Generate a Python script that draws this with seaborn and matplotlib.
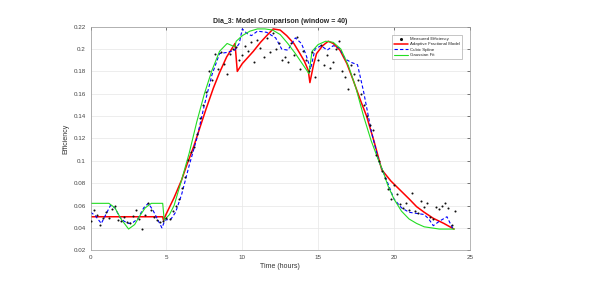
import numpy as np
import pandas as pd
import matplotlib
matplotlib.use("Agg")
import matplotlib.pyplot as plt
import seaborn as sns
from matplotlib.ticker import FuncFormatter, MultipleLocator

# ---- data ----
meas_t = [round(0.2 * i, 1) for i in range(121)]
meas_v = [0.046, 0.056, 0.052, 0.043, 0.049, 0.054, 0.049, 0.057, 0.060, 0.047,
          0.046, 0.050, 0.045, 0.044, 0.051, 0.056, 0.048, 0.039, 0.052, 0.062,
          0.056, 0.050, 0.047, 0.045, 0.046, 0.049, 0.048, 0.055, 0.060, 0.066,
          0.076, 0.086, 0.101, 0.108, 0.112, 0.124, 0.138, 0.150, 0.162, 0.180,
          0.172, 0.196, 0.182, 0.197, 0.187, 0.178, 0.196, 0.200, 0.202, 0.190,
          0.195, 0.203, 0.198, 0.206, 0.188, 0.208, 0.201, 0.193, 0.210, 0.197,
          0.214, 0.200, 0.205, 0.190, 0.193, 0.188, 0.205, 0.195, 0.211, 0.182,
          0.198, 0.190, 0.180, 0.197, 0.175, 0.190, 0.204, 0.186, 0.195, 0.183,
          0.188, 0.200, 0.207, 0.180, 0.175, 0.164, 0.186, 0.178, 0.172, 0.160,
          0.150, 0.140, 0.132, 0.128, 0.105, 0.100, 0.091, 0.085, 0.075, 0.066,
          0.078, 0.070, 0.061, 0.058, 0.062, 0.056, 0.071, 0.055, 0.053, 0.064,
          0.059, 0.062, 0.050, 0.048, 0.059, 0.057, 0.060, 0.062, 0.058, 0.043,
          0.055]

red_t = [0, 1, 2, 3, 4, 4.75, 4.8, 5.0, 5.5, 6.0, 6.33, 6.8, 7.21, 7.6, 8.09, 8.5,
         8.97, 9.25, 9.52, 9.67, 10.0, 10.4, 10.73, 11.2, 11.61, 12.04, 12.5, 12.93,
         13.4, 13.8, 14.1, 14.35, 14.46, 14.7, 14.9, 15.3, 15.67, 16.0, 16.44, 16.9,
         17.32, 17.8, 18.2, 18.7, 19.2, 19.8, 20.4, 21.0, 21.5, 22.0, 22.6, 23.3, 23.96]
red_v = [0.05, 0.05, 0.05, 0.05, 0.05, 0.05, 0.047, 0.053, 0.067, 0.083, 0.096, 0.113,
         0.130, 0.146, 0.165, 0.179, 0.193, 0.199, 0.205, 0.180, 0.187, 0.193, 0.198,
         0.206, 0.212, 0.218, 0.217, 0.212, 0.205, 0.196, 0.189, 0.181, 0.170, 0.186,
         0.196, 0.203, 0.207, 0.205, 0.199, 0.187, 0.172, 0.154, 0.140, 0.117, 0.092,
         0.082, 0.074, 0.066, 0.059, 0.054, 0.0486, 0.044, 0.039]

blue_t = [0, 0.3, 0.7, 1.0, 1.3, 1.6, 1.9, 2.2, 2.5, 2.8, 3.1, 3.5, 3.8, 4.1, 4.4,
          4.7, 4.9, 5.3, 5.6, 6.0, 6.5, 7.0, 7.5, 8.0, 8.5, 9.0, 9.5, 9.8, 10.0, 10.3,
          10.6, 11.0, 11.6, 12.2, 12.6, 13.0, 13.5, 13.9, 14.2, 14.5, 14.8, 15.2, 15.6,
          16.0, 16.4, 16.8, 17.2, 17.6, 18.0, 18.5, 19.0, 19.3, 19.6, 20.0, 20.5, 21.0,
          21.5, 22.0, 22.3, 22.6, 23.0, 23.5, 23.9]
blue_v = [0.054, 0.051, 0.044, 0.052, 0.060, 0.058, 0.050, 0.046, 0.044, 0.045, 0.048,
          0.058, 0.062, 0.056, 0.048, 0.040, 0.047, 0.048, 0.054, 0.070, 0.096, 0.120,
          0.150, 0.177, 0.196, 0.197, 0.199, 0.205, 0.218, 0.214, 0.212, 0.216, 0.215,
          0.210, 0.200, 0.199, 0.210, 0.205, 0.195, 0.182, 0.200, 0.203, 0.199, 0.203,
          0.201, 0.191, 0.188, 0.186, 0.162, 0.127, 0.100, 0.090, 0.080, 0.066, 0.058,
          0.054, 0.053, 0.052, 0.048, 0.042, 0.046, 0.050, 0.039]

green_t = [0, 0.6, 1.2, 1.6, 2.0, 2.5, 2.9, 3.2, 3.6, 4.0, 4.4, 4.75, 4.85, 5.2, 5.5,
           6.0, 6.5, 7.0, 7.5, 8.0, 8.5, 9.0, 9.5, 9.6, 10.0, 10.5, 11.0, 11.5, 12.0,
           12.5, 13.0, 13.5, 14.0, 14.4, 14.6, 15.0, 15.5, 16.0, 16.5, 17.0, 17.5, 18.0,
           18.5, 19.0, 19.3, 19.6, 20.0, 20.5, 21.0, 21.5, 22.0, 22.5, 23.0, 23.5, 24.0]
green_v = [0.062, 0.062, 0.062, 0.058, 0.048, 0.039, 0.043, 0.050, 0.058, 0.062, 0.062,
           0.062, 0.047, 0.052, 0.060, 0.083, 0.107, 0.135, 0.160, 0.181, 0.198, 0.205,
           0.202, 0.207, 0.212, 0.216, 0.218, 0.218, 0.217, 0.213, 0.205, 0.196, 0.186,
           0.178, 0.198, 0.204, 0.207, 0.206, 0.200, 0.185, 0.165, 0.140, 0.118, 0.100,
           0.090, 0.078, 0.066, 0.055, 0.048, 0.044, 0.041, 0.040, 0.039, 0.039, 0.039]

x_ticks = [0, 5, 10, 15, 20, 25]
y_ticks = [0.02, 0.04, 0.06, 0.08, 0.10, 0.12, 0.14, 0.16, 0.18, 0.20, 0.22]

# ---- plot ----
sns.set_style("white")
plt.rcParams['font.family'] = ['Liberation Sans', 'DejaVu Sans']

fig = plt.figure(figsize=(6.07, 2.84), dpi=100)
ax = fig.add_axes([0.1494, 0.1187, 0.6244, 0.7873])

sns.scatterplot(x=meas_t, y=meas_v, ax=ax, color='#111111', s=2.2, marker='o',
                linewidth=0, label='Measured Efficiency', zorder=3)
sns.lineplot(x=red_t, y=red_v, ax=ax, color='red', linewidth=1.1, sort=False,
             estimator=None, label='Adaptive Fractional Model')
sns.lineplot(x=blue_t, y=blue_v, ax=ax, color='blue', linewidth=0.8, sort=False,
             estimator=None, linestyle=(0, (3, 2)), label='Cubic Spline')
sns.lineplot(x=green_t, y=green_v, ax=ax, color='#22dd22', linewidth=0.8, sort=False,
             estimator=None, linestyle='-', label='Gaussian Fit')

ax.set_xlim(0, 25)
ax.set_ylim(0.02, 0.22)
ax.set_xticks(x_ticks)
ax.set_yticks(y_ticks)
ax.yaxis.set_major_formatter(FuncFormatter(lambda v, p: f"{v:g}"))
ax.tick_params(axis='both', labelsize=4.5, colors='#444444', direction='in',
               length=2, width=0.5, top=True, right=True)
ax.grid(True, color='#e6e6e6', linewidth=0.5)
for s in ax.spines.values():
    s.set_color('#999999')
    s.set_linewidth(0.5)

ax.set_title('Dia_3: Model Comparison (window = 40)', fontsize=5, fontweight='bold',
             pad=3)
ax.set_xlabel('Time (hours)', fontsize=5, labelpad=2, color='#333333')
ax.set_ylabel('Efficiency', fontsize=5, labelpad=3, color='#333333')

leg = ax.legend(loc='upper right', fontsize=3.2, frameon=True, fancybox=False,
                borderpad=0.5, handlelength=3.0, handletextpad=0.4,
                labelspacing=0.3, bbox_to_anchor=(0.985, 0.975), markerscale=1.5)
leg.get_frame().set_edgecolor('#999999')
leg.get_frame().set_linewidth(0.5)

fig.savefig('out.png', dpi=100)
